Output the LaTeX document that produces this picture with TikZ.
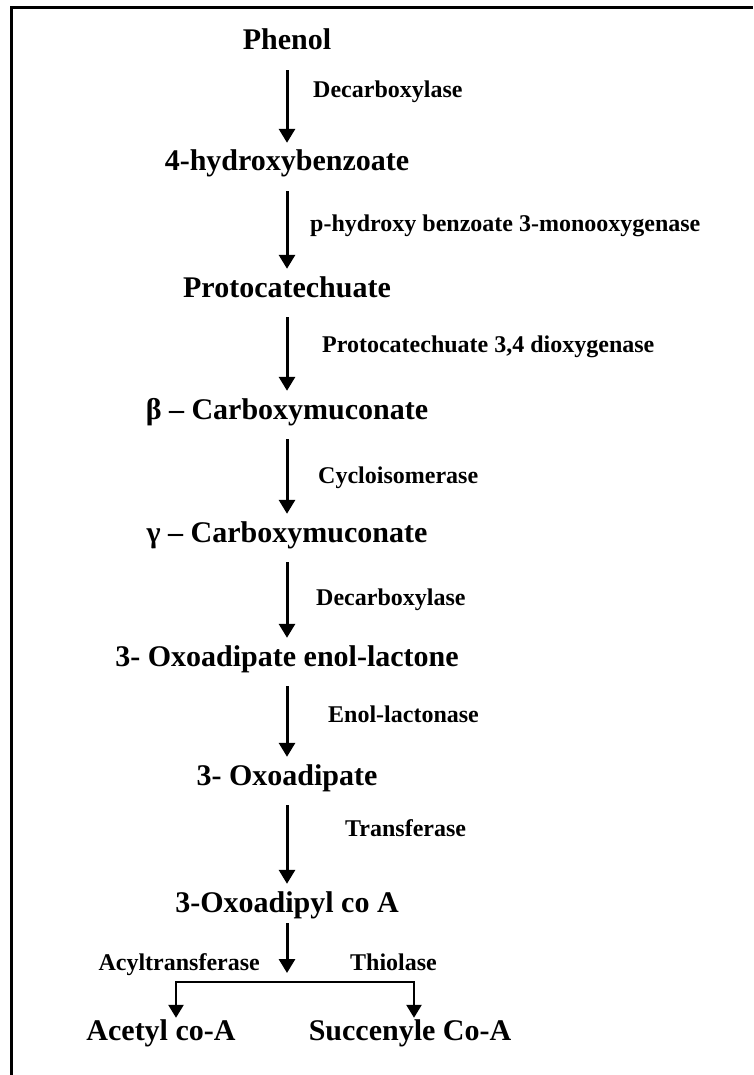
\documentclass[tikz,border=0pt]{standalone}
\usepackage{fontspec}
\setmainfont{Liberation Serif}[BoldFont={Liberation Serif Bold}]
\usetikzlibrary{arrows.meta,positioning}

\begin{document}
\begin{tikzpicture}[
    x=1pt, y=-1pt,
    cmpd/.style={font=\fontsize{30}{34}\selectfont\bfseries, inner sep=0pt, text height=20pt, text depth=0pt, anchor=base},
    enz/.style={font=\fontsize{24}{28}\selectfont\bfseries, inner sep=0pt, anchor=base west},
    conv/.style={line width=3pt, -{Triangle[length=14pt,width=16pt]}, shorten <=20pt, shorten >=8pt},
    branch/.style={line width=2.5pt, {Triangle[length=13pt,width=15pt]}-{Triangle[length=13pt,width=15pt]}, shorten <=2pt, shorten >=2pt}
  ]
    \useasboundingbox (0,0) rectangle (753,1075);
    \draw[line width=3.5pt] (11.5,1075) -- (11.5,7.5) -- (753,7.5);

    \node[cmpd] (phenol) at (287,50) {Phenol};
    \node[cmpd] (hb) at (287,171) {4-hydroxybenzoate};
    \node[cmpd] (pca) at (287,297) {Protocatechuate};
    \node[cmpd] (bcm) at (287,419) {β – Carboxymuconate};
    \node[cmpd] (gcm) at (287,542) {γ – Carboxymuconate};
    \node[cmpd] (oel) at (287,666) {3- Oxoadipate enol-lactone};
    \node[cmpd] (oxa) at (287,785) {3- Oxoadipate};
    \node[cmpd] (ocoa) at (287,912) {3-Oxoadipyl co A};
    \node[cmpd] (acoa) at (161,1040) {Acetyl co-A};
    \node[cmpd] (scoa) at (410,1040) {Succenyle Co-A};

    \node[enz] (dc1) at (313,98) {Decarboxylase};
    \node[enz] (phm) at (310,232) {p-hydroxy benzoate 3-monooxygenase};
    \node[enz] (pcd) at (322,352) {Protocatechuate 3,4 dioxygenase};
    \node[enz] (cyc) at (318,483) {Cycloisomerase};
    \node[enz] (dc2) at (316,605) {Decarboxylase};
    \node[enz] (enl) at (328,722) {Enol-lactonase};
    \node[enz] (trf) at (345,836) {Transferase};
    \node[enz, anchor=base east] (act) at (260,970) {Acyltransferase};
    \node[enz] (thl) at (350,970) {Thiolase};

    \draw[conv] (phenol) -- (hb);
    \draw[conv] (hb) -- (pca);
    \draw[conv] (pca) -- (bcm);
    \draw[conv] (bcm) -- (gcm);
    \draw[conv] (gcm) -- (oel);
    \draw[conv] (oel) -- (oxa);
    \draw[conv] (oxa) -- (ocoa);

    \coordinate (split) at (287,982);
    \coordinate (brl) at (176,982);
    \coordinate (brr) at (414,982);
    \draw[conv, shorten <=11pt, shorten >=9pt] (ocoa) -- (split);
    \draw[branch] (acoa.north -| brl) -- (brl) -- (brr) -- (brr |- scoa.north);
\end{tikzpicture}
\end{document}
